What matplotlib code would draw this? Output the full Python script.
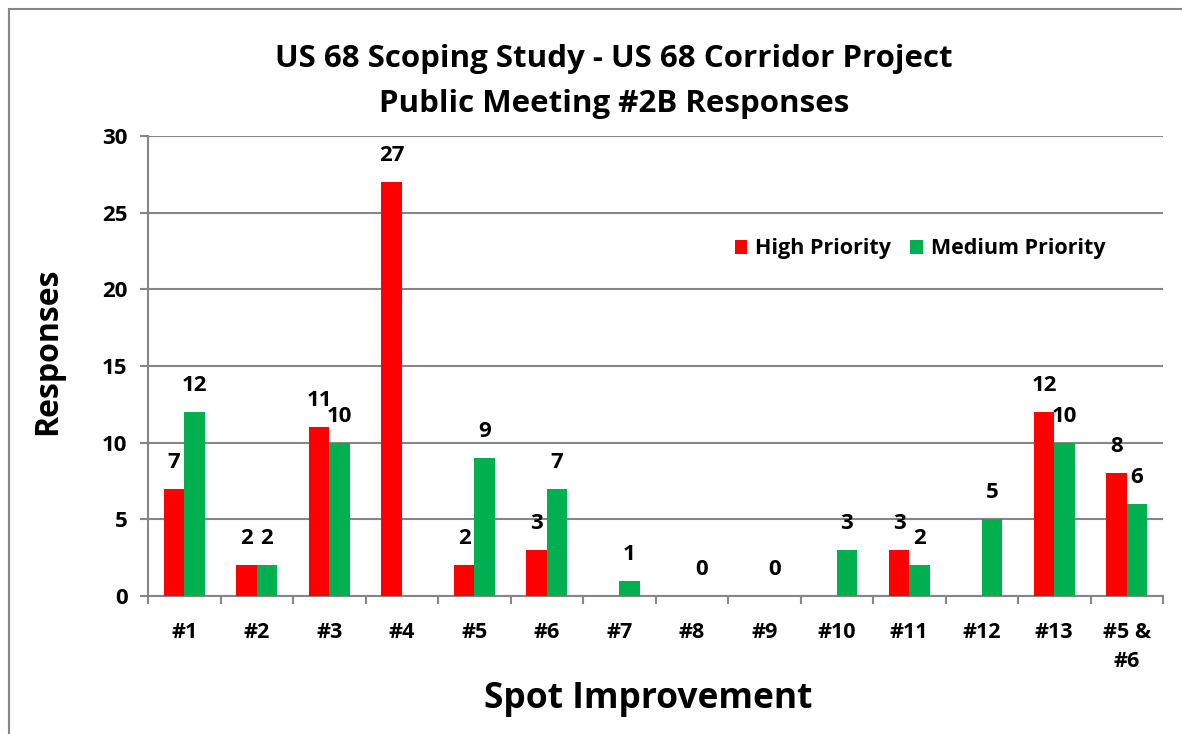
import numpy as np
import matplotlib
matplotlib.use("Agg")
import matplotlib.pyplot as plt
from matplotlib.patches import Rectangle

plt.rcParams['font.family'] = ['Open Sans', 'DejaVu Sans']
plt.rcParams['font.weight'] = 'bold'

categories = ["#1", "#2", "#3", "#4", "#5", "#6", "#7", "#8", "#9",
              "#10", "#11", "#12", "#13", "#5 &\n#6"]
# NaN = no response recorded for that series (no bar, no label)
high_priority = [7, 2, 11, 27, 2, 3, np.nan, np.nan, np.nan, np.nan, 3, np.nan, 12, 8]
medium_priority = [12, 2, 10, np.nan, 9, 7, 1, 0, 0, 3, 2, 5, 10, 6]
series_names = ["High Priority", "Medium Priority"]
series_colors = ["#FF0000", "#00B050"]
y_ticks = [0, 5, 10, 15, 20, 25, 30]

W, H = 1182, 734
fig = plt.figure(figsize=(W / 100, H / 100), dpi=100)
fig.patch.set_facecolor("white")

ax = fig.add_axes([148 / W, 1 - 596 / H, (1163 - 148) / W, (596 - 136) / H])

axis_grey = "#868686"
x = np.arange(len(categories))
bw = 0.28
for vals, name, col, off in zip([high_priority, medium_priority], series_names,
                                series_colors, [-bw / 2, bw / 2]):
    v = np.array(vals, dtype=float)
    ax.bar(x + off, np.nan_to_num(v), width=bw, color=col, label=name, zorder=3)
    for xi, vi in zip(x, v):
        if np.isnan(vi):
            continue
        ax.annotate(f"{int(vi)}", (xi + off, vi), xytext=(0, 19),
                    textcoords="offset points", ha="center", va="center",
                    fontsize=16, fontweight="bold", color="black")

ax.set_xlim(-0.5, len(categories) - 0.5)
ax.set_ylim(0, 30)
ax.set_yticks(y_ticks)
ax.set_yticklabels([str(t) for t in y_ticks], fontsize=16, fontweight="bold")
ax.set_xticks(x)
ax.set_xticklabels(categories, fontsize=15.5, fontweight="bold", va="top",
                   linespacing=1.45)
ax.set_xticks(np.arange(-0.5, len(categories), 1.0), minor=True)
ax.tick_params(axis="x", which="major", length=0, pad=19)
ax.tick_params(axis="x", which="minor", length=8 * 0.72, width=1.5,
               color=axis_grey, direction="out")
ax.tick_params(axis="y", length=8 * 0.72, width=1.5, color=axis_grey, pad=9)

ax.grid(axis="y", color=axis_grey, linewidth=1.5, zorder=0)
ax.set_axisbelow(True)
for s in ["top", "right"]:
    ax.spines[s].set_visible(False)
for s in ["left", "bottom"]:
    ax.spines[s].set_color(axis_grey)
    ax.spines[s].set_linewidth(1.5)

# axis titles placed in figure coordinates
fig.text(48 / W, 1 - 351 / H, "Responses", rotation=90, ha="center", va="center",
         fontsize=23, fontweight="bold")
fig.text(648 / W, 1 - 699 / H, "Spot Improvement", ha="center", va="center",
         fontsize=25.5, fontweight="bold")

fig.text(614 / W, 1 - 59 / H, "US 68 Scoping Study - US 68 Corridor Project",
         ha="center", va="center", fontsize=22.5, fontweight="bold")
fig.text(614 / W, 1 - 104 / H, "Public Meeting #2B Responses",
         ha="center", va="center", fontsize=22.5, fontweight="bold")

ax.legend(loc="center", bbox_to_anchor=(920 / W, 1 - 249 / H),
          bbox_transform=fig.transFigure, ncol=2, frameon=False,
          prop={"size": 15.5, "weight": "bold"}, handlelength=0.6,
          handleheight=0.6, handletextpad=0.35, columnspacing=0.9)

fig.add_artist(Rectangle((9 / W, -0.1), 1.2, (H - 9) / H + 0.1,
                         transform=fig.transFigure, fill=False,
                         edgecolor=axis_grey, linewidth=1.5))

fig.savefig("out.png", dpi=100, facecolor="white")
